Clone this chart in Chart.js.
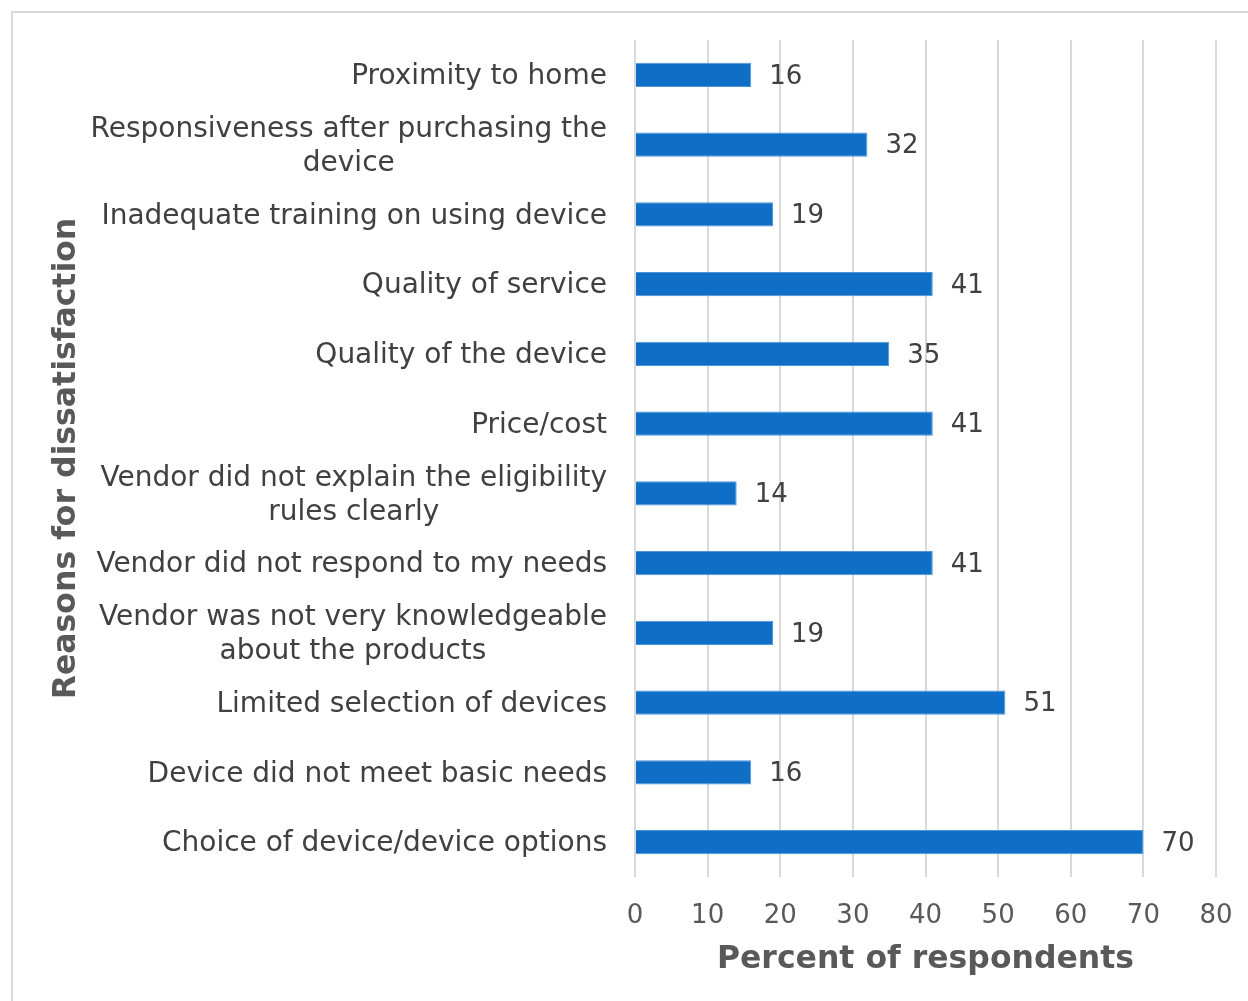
<!DOCTYPE html>
<html>
<head>
<meta charset="utf-8">
<script src="https://cdn.jsdelivr.net/npm/chart.js@4"></script>
<style>
  html, body { margin: 0; padding: 0; background: #fff; }
  #frame { position: absolute; left: 11px; top: 11px; width: 1300px; height: 1100px;
           border-left: 2px solid #d9d9d9; border-top: 2px solid #d9d9d9; }
  #grafico { position: absolute; left: 0; top: 0; }
</style>
</head>
<body>
<div id="frame"></div>
<canvas id="grafico" width="1248" height="1001"></canvas>
<script>
// motivos de insatisfação (de cima para baixo)
const categorias = [
  'Proximity to home',
  ['Responsiveness after purchasing the', 'device'],
  'Inadequate training on using device',
  'Quality of service',
  'Quality of the device',
  'Price/cost',
  ['Vendor did not explain the eligibility', 'rules clearly'],
  'Vendor did not respond to my needs',
  ['Vendor was not very knowledgeable', 'about the products'],
  'Limited selection of devices',
  'Device did not meet basic needs',
  'Choice of device/device options'
];
const valores = [16, 32, 19, 41, 35, 41, 14, 41, 19, 51, 16, 70];
const ticksX = [0, 10, 20, 30, 40, 50, 60, 70, 80];

const fonte = '"DejaVu Sans", Verdana, sans-serif';

// desenha os rótulos das categorias (linhas centradas entre si) e os valores das barras
const rotulos = {
  id: 'rotulos',
  afterDatasetsDraw(chart) {
    const ctx = chart.ctx;
    const y = chart.scales.y;
    ctx.save();
    ctx.textBaseline = 'middle';
    ctx.textAlign = 'center';
    ctx.font = '28px ' + fonte;
    ctx.fillStyle = '#404040';
    categorias.forEach((lab, i) => {
      const linhas = Array.isArray(lab) ? lab : [lab];
      const w = Math.max(...linhas.map(l => ctx.measureText(l).width));
      const cx = chart.chartArea.left - 28 - w / 2;
      const yc = y.getPixelForValue(i) + 2;
      linhas.forEach((l, j) => {
        ctx.fillText(l, cx, yc + (j - (linhas.length - 1) / 2) * 34);
      });
    });
    ctx.textAlign = 'left';
    ctx.font = '26px ' + fonte;
    const meta = chart.getDatasetMeta(0);
    meta.data.forEach((bar, i) => {
      ctx.fillText(String(valores[i]), bar.x + 18, bar.y + 2);
    });
    ctx.restore();
  }
};

new Chart(document.getElementById('grafico'), {
  type: 'bar',
  data: {
    labels: categorias,
    datasets: [{
      data: valores,
      backgroundColor: '#0f6fc6',
      borderColor: '#4d94d8',
      borderWidth: 1,
      barPercentage: 0.35,
      categoryPercentage: 1
    }]
  },
  options: {
    indexAxis: 'y',
    responsive: false,
    animation: false,
    layout: { padding: { top: 40, right: 32, left: 12, bottom: 0 } },
    plugins: { legend: { display: false }, tooltip: { enabled: false } },
    scales: {
      x: {
        min: 0,
        max: 80,
        afterBuildTicks: s => { s.ticks = ticksX.map(v => ({ value: v })); },
        afterFit: s => { s.height = 124; s.paddingLeft = 0; s.paddingRight = 0; },
        grid: { color: '#d9d9d9', lineWidth: 2, drawTicks: false },
        border: { display: false },
        ticks: { color: '#595959', font: { family: fonte, size: 26 }, padding: 24 },
        title: {
          display: true,
          text: 'Percent of respondents',
          color: '#595959',
          font: { family: fonte, size: 31.5, weight: 'bold' },
          padding: { bottom: 22 }
        }
      },
      y: {
        afterFit: s => { s.width = 623; },
        grid: { display: false },
        border: { display: false },
        ticks: { display: false },
        title: {
          display: true,
          text: 'Reasons for dissatisfaction',
          color: '#595959',
          font: { family: fonte, size: 31.5, weight: 'bold' },
          padding: { top: 36 }
        }
      }
    }
  },
  plugins: [rotulos]
});
</script>
</body>
</html>
